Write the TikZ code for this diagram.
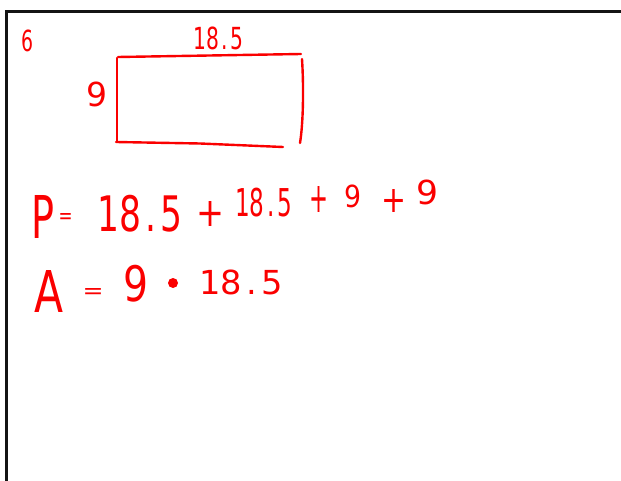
\documentclass[tikz,border=0pt]{standalone}
\usepackage{graphicx}
\usepackage{fontspec}
\newfontfamily\handfont{DejaVu Sans}
\definecolor{ink}{RGB}{250,0,0}
\definecolor{frame}{RGB}{20,20,20}
\tikzset{
  hand/.style={inner sep=0pt, outer sep=0pt, text=ink, font=\handfont},
  pen/.style={draw=ink, line width=2.4pt, line cap=round, line join=round},
  board/.style={draw=frame, line width=3pt},
}
\newcommand{\fitw}[3]{\resizebox*{#1pt}{#2pt}{#3}}
\newcommand{\num}{18\kern.12em.\kern.12em5}
\begin{document}
\begin{tikzpicture}[x=1pt,y=-1pt]
\useasboundingbox (0,0) rectangle (621,481);
% board frame
\coordinate (tl) at (6,12);
\coordinate (tr) at (621,12);
\coordinate (bl) at (6,481);
\draw[board] (tr) -- (tl) -- (bl);
% rectangle (hand drawn)
\coordinate (r1) at (118,57);
\coordinate (r2) at (301,54);
\coordinate (r3) at (302,59);
\coordinate (r4) at (300,143);
\coordinate (r5) at (116,142);
\coordinate (r6) at (283,147);
\coordinate (r7) at (117,58);
\coordinate (r8) at (117,141);
\draw[pen] (r1) -- (r2);
\draw[pen] (r3) .. controls (304,90) and (303,125) .. (r4);
\draw[pen] (r5) -- (200,143.5) -- (r6);
\draw[pen] (r7) -- (r8);
% labels
\node[hand] (six) at (27.5,41) {\fitw{12}{22}{6}};
\node[hand] (top) at (218.5,38.5) {\fitw{50}{23}{\num}};
\node[hand] (side) at (97,94.5) {\fitw{21}{25}{9}};
% perimeter
\node[hand] (P) at (43,216.5) {\fitw{23}{43}{P}};
\node[hand] (eqP) at (65.5,218) {\fitw{14}{10}{=}};
\node[hand] (p1) at (140,213.5) {\fitw{85}{37}{\num}};
\node[hand] (plus1) at (210,214.5) {\fitw{28}{25}{+}};
\node[hand] (p2) at (263.5,202.5) {\fitw{57}{29}{\num}};
\node[hand] (plus2) at (318.5,200) {\fitw{19}{26}{+}};
\node[hand] (p3) at (352.5,196.5) {\fitw{17}{23}{9}};
\node[hand] (plus3) at (393.5,201.5) {\fitw{25}{23}{+}};
\node[hand] (p4) at (427,192.5) {\fitw{22}{25}{9}};
% area
\node[hand] (A) at (49,291) {\fitw{29}{42}{A}};
\node[hand] (eqA) at (93,293) {\fitw{21}{10}{=}};
\node[hand] (a9) at (136.5,283.5) {\fitw{25}{37}{9}};
\node[circle, fill=ink, inner sep=0pt, minimum size=10pt] (dot) at (173,283) {};
\node[hand] (a185) at (241,282.5) {\fitw{83}{25}{\num}};
\end{tikzpicture}
\end{document}
